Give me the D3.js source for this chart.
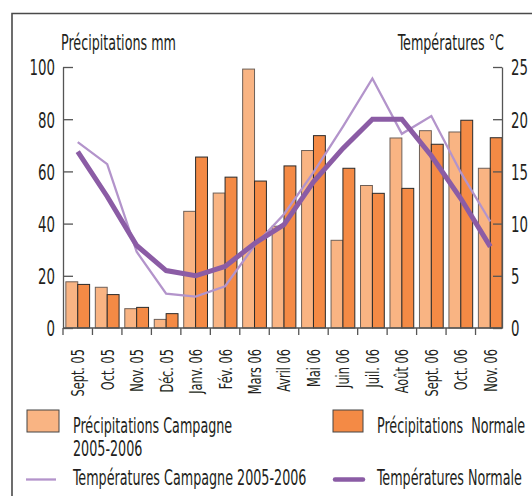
<!DOCTYPE html>
<html>
<head>
<meta charset="utf-8">
<script src="https://cdn.jsdelivr.net/npm/d3@7"></script>
<style>
  body { margin: 0; background: #fff; }
  text { font-family: "Liberation Sans Narrow", "DejaVu Sans Condensed", "Arial Narrow", sans-serif; fill: #231f20; }
</style>
</head>
<body>
<svg id="chart" width="532" height="496"></svg>
<script>
// données
const months = ["Sept. 05", "Oct. 05", "Nov. 05", "Déc. 05", "Janv. 06", "Fév. 06", "Mars 06",
  "Avril 06", "Mai 06", "Juin 06", "Juil. 06", "Août 06", "Sept. 06", "Oct. 06", "Nov. 06"];
const precipCampagne = [17.7, 15.6, 7.4, 3.3, 44.7, 51.7, 99.2, 39, 68, 33.6, 54.6, 72.8, 75.6, 75.1, 61.2];
const precipNormale = [16.7, 12.8, 7.9, 5.5, 65.5, 57.8, 56.3, 62.1, 73.7, 61.2, 51.6, 53.5, 70.4, 79.6, 72.9];
const tempCampagne = [17.8, 15.7, 7.3, 3.3, 3.0, 4.0, 7.9, 10.9, 14.9, 19.3, 23.9, 18.6, 20.3, 14.9, 10.2];
const tempNormale = [16.9, 12.6, 7.9, 5.5, 5.0, 5.9, 8.1, 9.9, 14.0, 17.2, 20.0, 20.0, 16.5, 12.4, 7.8];
const precipTicks = [0, 20, 40, 60, 80, 100];
const tempTicks = [0, 5, 10, 15, 20, 25];

// couleurs
const colLight = "#f9b483";
const colDark = "#f48a45";
const colTempCamp = "#b394cb";
const colTempNorm = "#8b5ca5";

const svg = d3.select("#chart");

// la police d'origine est très condensée : on mesure un texte témoin
// pour trouver le facteur de compression
const probe = svg.append("text").attr("font-size", 21).text("Précipitations mm");
const squeeze = 115 / probe.node().getComputedTextLength();
probe.remove();

function condense(sel, k) {
  sel.each(function () {
    const len = this.getComputedTextLength();
    d3.select(this).attr("textLength", len * k).attr("lengthAdjust", "spacingAndGlyphs");
  });
}

// cadre
svg.append("path")
  .attr("d", "M12,496V13.5H532")
  .attr("fill", "none")
  .attr("stroke", "#4a4a4a")
  .attr("stroke-width", 1.6);

const plotLeft = 63, rightAxisX = 502, plotTop = 67, plotBottom = 328;

// échelles
const x0 = d3.scaleBand().domain(months).range([plotLeft, 505]).padding(0);
const x1 = d3.scaleBand().domain(["camp", "norm"]).range([0, x0.bandwidth()]).paddingInner(0).paddingOuter(0.24);
const yL = d3.scaleLinear().domain([0, 100]).range([plotBottom, plotTop]);
const yR = d3.scaleLinear().domain([0, 25]).range([plotBottom, plotTop]);

// barres
const groups = svg.append("g").selectAll("g")
  .data(months.map((m, i) => ({ m, camp: precipCampagne[i], norm: precipNormale[i] })))
  .join("g")
  .attr("transform", d => `translate(${x0(d.m)},0)`);

groups.selectAll("rect")
  .data(d => ["camp", "norm"].map(key => ({ key, value: d[key] })))
  .join("rect")
  .attr("x", d => x1(d.key))
  .attr("y", d => yL(d.value))
  .attr("width", x1.bandwidth())
  .attr("height", d => yL(0) - yL(d.value))
  .attr("fill", d => d.key === "camp" ? colLight : colDark)
  .attr("stroke", d => d.key === "camp" ? "#6e6058" : "#2a2a2a")
  .attr("stroke-width", 1);

// courbes de températures
const line = d3.line()
  .x((d, i) => x0(months[i]) + x0.bandwidth() / 2)
  .y(d => yR(d));

svg.append("path")
  .datum(tempCampagne)
  .attr("d", line)
  .attr("fill", "none")
  .attr("stroke", colTempCamp)
  .attr("stroke-width", 2.3);

svg.append("path")
  .datum(tempNormale)
  .attr("d", line)
  .attr("fill", "none")
  .attr("stroke", colTempNorm)
  .attr("stroke-width", 5);

// axe gauche
const axL = svg.append("g")
  .attr("transform", `translate(${plotLeft},0)`)
  .call(d3.axisLeft(yL).tickValues(precipTicks).tickSizeInner(-10).tickSizeOuter(0).tickPadding(8));

// axe droit
const axR = svg.append("g")
  .attr("transform", `translate(${rightAxisX},0)`)
  .call(d3.axisRight(yR).tickValues(tempTicks).tickSizeInner(-9).tickSizeOuter(0).tickPadding(9));

[axL, axR].forEach(ax => {
  ax.selectAll("path, line").attr("stroke", "#555").attr("stroke-width", 1.3);
  ax.selectAll("text")
    .attr("font-size", 22)
    .attr("font-family", null)
    .attr("fill", "#231f20")
    .attr("dy", "0.36em");
});

// axe du bas
const axB = svg.append("g")
  .attr("transform", `translate(0,${plotBottom})`)
  .call(d3.axisBottom(x0).tickSize(0));
axB.select(".domain").remove();
axB.selectAll("text")
  .attr("font-size", 18)
  .attr("font-family", null)
  .attr("fill", "#231f20")
  .attr("text-anchor", "end")
  .attr("transform", "rotate(-90)")
  .attr("x", -21)
  .attr("y", 0)
  .attr("dy", "0.36em");

axB.append("line")
  .attr("x1", plotLeft).attr("x2", rightAxisX)
  .attr("y1", 0).attr("y2", 0)
  .attr("stroke", "#555").attr("stroke-width", 1.3);

axB.selectAll(".sep")
  .data(months)
  .join("line")
  .attr("class", "sep")
  .attr("x1", d => x0(d)).attr("x2", d => x0(d))
  .attr("y1", 0).attr("y2", 7)
  .attr("stroke", "#555").attr("stroke-width", 1.3);

// titres des axes
const t1 = svg.append("text")
  .attr("x", 61).attr("y", 50)
  .attr("font-size", 21)
  .text("Précipitations mm");
const t2 = svg.append("text")
  .attr("x", 504).attr("y", 50)
  .attr("text-anchor", "end")
  .attr("font-size", 21)
  .text("Températures °C");

// légende
const leg = svg.append("g");
leg.append("rect").attr("x", 27).attr("y", 410).attr("width", 32).attr("height", 22)
  .attr("fill", colLight).attr("stroke", "#444").attr("stroke-width", 1);
leg.append("rect").attr("x", 333).attr("y", 410).attr("width", 30).attr("height", 22)
  .attr("fill", colDark).attr("stroke", "#444").attr("stroke-width", 1);
leg.append("line").attr("x1", 26).attr("x2", 56).attr("y1", 479.5).attr("y2", 479.5)
  .attr("stroke", colTempCamp).attr("stroke-width", 2.3);
leg.append("line").attr("x1", 335).attr("x2", 363).attr("y1", 479.5).attr("y2", 479.5)
  .attr("stroke", colTempNorm).attr("stroke-width", 4.5).attr("stroke-linecap", "round");

const legTexts = [
  { x: 73, y: 432.5, t: "Précipitations Campagne" },
  { x: 73, y: 455.5, t: "2005-2006" },
  { x: 377, y: 432.5, t: "Précipitations  Normale" },
  { x: 73, y: 485, t: "Températures Campagne 2005-2006" },
  { x: 377, y: 485, t: "Températures Normale" }
];
const lt = leg.selectAll("text.lt")
  .data(legTexts)
  .join("text")
  .attr("class", "lt")
  .attr("x", d => d.x).attr("y", d => d.y)
  .attr("font-size", 21)
  .style("white-space", "pre")
  .text(d => d.t);

condense(axL.selectAll("text"), squeeze);
condense(axR.selectAll("text"), squeeze);
condense(axB.selectAll("text"), squeeze * 1.04);
condense(t1, squeeze);
condense(t2, squeeze);
condense(lt, squeeze);
</script>
</body>
</html>
